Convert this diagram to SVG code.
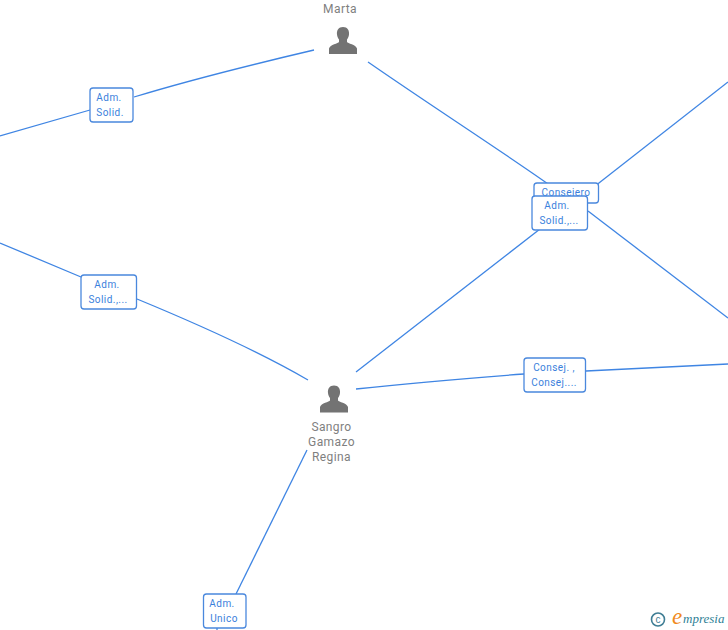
<svg xmlns="http://www.w3.org/2000/svg" width="728" height="630" viewBox="0 0 728 630">
<style>
.c{fill:none;stroke:#3f85e3;stroke-width:1.3}
.b{fill:#fff;stroke:#4a88dd;stroke-width:1.3}
.l{font:10px Roboto,"Liberation Sans",sans-serif;letter-spacing:.45px;fill:#3a7fdc;text-anchor:middle}
.n{font:12px Roboto,"Liberation Sans",sans-serif;letter-spacing:.4px;fill:#7f7f7f;text-anchor:middle}
.p{fill:#737373}
</style>
<defs>
<path id="person" d="M0 -14C-4.500 -14 -6.500 -10.500 -6 -6.500C-5.800 -4.500 -5 -2.800 -4 -1.500V1C-4.500 2.500 -13 3.500 -14 7.500V13H14V7.500C13 3.500 4.500 2.500 4 1V-1.500C5 -2.800 5.800 -4.500 6 -6.500C6.500 -10.500 4.500 -14 0 -14Z"/>
</defs>
<rect width="728" height="630" fill="#fff"/>
<g id="connectors">
<path class="c" d="M0 136L90 110M134 97C190 80 250 65 314 50"/>
<path class="c" d="M0 243L81 277M137 299C200 325 260 352 308 380"/>
<path class="c" d="M368 62C430 105 500 150 551 186"/>
<path class="c" d="M728 82L590 190"/>
<path class="c" d="M588 211L728 318"/>
<path class="c" d="M356 372L540 229"/>
<path class="c" d="M356 389C410 383 470 378 524 374M586 371L728 364"/>
<path class="c" d="M307 450L236 594"/>
<path class="c" d="M217 628V630"/>
</g>
<g id="marta"><text class="n" x="340" y="13">Marta</text><use class="p" href="#person" x="343" y="41"/></g>
<g id="sangro"><text class="n" x="331.500" y="431">Sangro</text><text class="n" x="331.500" y="446">Gamazo</text><text class="n" x="331.500" y="461">Regina</text><use class="p" href="#person" x="334" y="399.500"/></g>
<g id="adm-solid-1"><rect class="b" x="90" y="88" width="43" height="34" rx="3"/><text class="l" x="109" y="101">Adm.</text><text class="l" x="110" y="116">Solid.</text></g>
<g id="adm-solid-2"><rect class="b" x="81" y="275" width="55.500" height="34" rx="3"/><text class="l" x="107" y="288">Adm.</text><text class="l" x="108" y="303">Solid.,...</text></g>
<g id="consejero"><rect class="b" x="534" y="183" width="64.500" height="20" rx="3"/><text class="l" x="566" y="196">Consejero</text></g>
<g id="adm-solid-3"><rect class="b" x="532" y="196" width="55.500" height="34" rx="3"/><text class="l" x="557" y="209">Adm.</text><text class="l" x="559" y="224">Solid.,...</text></g>
<g id="consej"><rect class="b" x="524" y="358" width="61.500" height="34" rx="3"/><text class="l" x="554" y="371">Consej. ,</text><text class="l" x="554" y="386">Consej....</text></g>
<g id="adm-unico"><rect class="b" x="203.500" y="594" width="42.500" height="34" rx="3"/><text class="l" x="222" y="607">Adm.</text><text class="l" x="224" y="622">Unico</text></g>
<g id="logo">
<circle cx="658" cy="619.500" r="6.500" fill="none" stroke="#3f7d94" stroke-width="1.600"/>
<text x="658" y="623" font-family="'Liberation Sans',sans-serif" font-size="10" fill="#3f7d94" text-anchor="middle">c</text>
<text x="672" y="624" font-family="'Liberation Serif',serif" font-style="italic" font-size="23" fill="#f08a1c">e</text>
<text x="683" y="623" font-family="'Liberation Serif',serif" font-style="italic" font-size="13" fill="#2f7f96">mpresia</text>
</g>
</svg>
